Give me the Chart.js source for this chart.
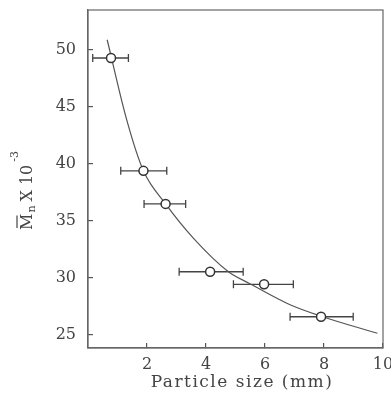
<!DOCTYPE html>
<html>
<head>
<meta charset="utf-8">
<script src="https://cdn.jsdelivr.net/npm/chart.js@4"></script>
<style>
  body { margin: 0; background: #fff; }
  canvas { display: block; }
</style>
</head>
<body>
<canvas id="chart" width="391" height="396"></canvas>
<script>
// measured points (particle size in mm, Mn x 10^-3)
const pointX = [0.78, 1.88, 2.63, 4.14, 5.97, 7.90];
const pointY = [49.3, 39.4, 36.5, 30.55, 29.45, 26.6];
// horizontal error bars (size range)
const errLow = [0.16, 1.11, 1.90, 3.09, 4.93, 6.85];
const errHigh = [1.37, 2.67, 3.31, 5.26, 6.96, 8.99];
// fitted curve
const fitX = [0.65, 1.31, 1.88, 2.63, 3.57, 4.76, 5.49, 6.85, 7.90, 9.81];
const fitY = [50.9, 43.9, 39.4, 36.5, 33.5, 30.55, 29.5, 27.65, 26.65, 25.15];
// axis ticks
const xTicks = [2, 4, 6, 8, 10];
const yTicks = [25, 30, 35, 40, 45, 50];

const ink = '#444';
const lineCol = '#555';
const serif = 'DejaVu Serif';

// error bars under the circles
const errorBars = {
    id: 'errorBars',
    beforeDatasetsDraw(chart) {
        const { ctx, scales: { x, y } } = chart;
        ctx.save();
        ctx.strokeStyle = '#444';
        ctx.lineWidth = 1.3;
        pointX.forEach((_, i) => {
            const x1 = x.getPixelForValue(errLow[i]);
            const x2 = x.getPixelForValue(errHigh[i]);
            const py = y.getPixelForValue(pointY[i]);
            ctx.beginPath();
            ctx.moveTo(x1, py); ctx.lineTo(x2, py);
            ctx.moveTo(x1, py - 4); ctx.lineTo(x1, py + 4);
            ctx.moveTo(x2, py - 4); ctx.lineTo(x2, py + 4);
            ctx.stroke();
        });
        ctx.restore();
    }
};

// full box around the plot + axis titles
const frameAndTitles = {
    id: 'frameAndTitles',
    afterDraw(chart) {
        const { ctx, chartArea: a } = chart;
        ctx.save();
        ctx.strokeStyle = '#666';
        ctx.lineWidth = 1.2;
        ctx.strokeRect(a.left, a.top, a.right - a.left, a.bottom - a.top);

        ctx.fillStyle = ink;
        ctx.textBaseline = 'alphabetic';

        // x title
        ctx.font = '17px "' + serif + '"';
        ctx.letterSpacing = '1.5px';
        ctx.textAlign = 'center';
        ctx.fillText('Particle size (mm)', 242, 387);
        ctx.letterSpacing = '0px';

        // y title: M̄n X 10^-3, rotated
        ctx.translate(32, 230);
        ctx.rotate(-Math.PI / 2);
        ctx.textAlign = 'left';
        const big = '16px "' + serif + '"';
        const small = '11px "' + serif + '"';
        let cx = 0;
        ctx.font = big;
        ctx.fillText('M', cx, 0);
        const wM = ctx.measureText('M').width;
        ctx.lineWidth = 1.2;
        ctx.strokeStyle = ink;
        ctx.beginPath();
        ctx.moveTo(cx + 2, -15); ctx.lineTo(cx + wM - 2, -15);
        ctx.stroke();
        cx += wM + 1;
        ctx.font = small;
        ctx.fillText('n', cx, 3);
        cx += ctx.measureText('n').width + 4;
        ctx.font = big;
        ctx.fillText('X 10', cx, 0);
        cx += ctx.measureText('X 10').width + 3;
        ctx.font = small;
        ctx.fillText('-3', cx, -14);
        ctx.restore();
    }
};

new Chart(document.getElementById('chart'), {
    type: 'scatter',
    data: {
        datasets: [
            {
                data: pointX.map((v, i) => ({ x: v, y: pointY[i] })),
                pointRadius: 4.5,
                pointBorderWidth: 1.5,
                pointBorderColor: '#333',
                pointBackgroundColor: '#fff',
                showLine: false
            },
            {
                data: fitX.map((v, i) => ({ x: v, y: fitY[i] })),
                showLine: true,
                borderColor: lineCol,
                borderWidth: 1.2,
                pointRadius: 0,
                cubicInterpolationMode: 'monotone',
                order: 1
            }
        ]
    },
    options: {
        responsive: false,
        animation: false,
        devicePixelRatio: 1,
        layout: { padding: { top: 10, right: 8, left: 0, bottom: 0 } },
        plugins: { legend: { display: false }, tooltip: { enabled: false } },
        scales: {
            x: {
                type: 'linear',
                min: 0,
                max: 10,
                afterBuildTicks: s => { s.ticks = xTicks.map(v => ({ value: v })); },
                afterFit: s => { s.height = 48; s.paddingLeft = 0; s.paddingRight = 0; },
                ticks: { color: ink, font: { family: serif, size: 16 }, padding: 12, maxRotation: 0 },
                grid: { drawOnChartArea: false, tickLength: -5, color: lineCol, lineWidth: 1.2 },
                border: { color: '#666', width: 1.2 }
            },
            y: {
                min: 23.86,
                max: 53.51,
                afterBuildTicks: s => { s.ticks = yTicks.map(v => ({ value: v })); },
                afterFit: s => { s.width = 88; s.paddingTop = 0; s.paddingBottom = 0; },
                ticks: { color: ink, font: { family: serif, size: 16 }, padding: 17 },
                grid: { drawOnChartArea: false, tickLength: -5, color: lineCol, lineWidth: 1.2 },
                border: { color: '#666', width: 1.2 }
            }
        }
    },
    plugins: [errorBars, frameAndTitles]
});
</script>
</body>
</html>
